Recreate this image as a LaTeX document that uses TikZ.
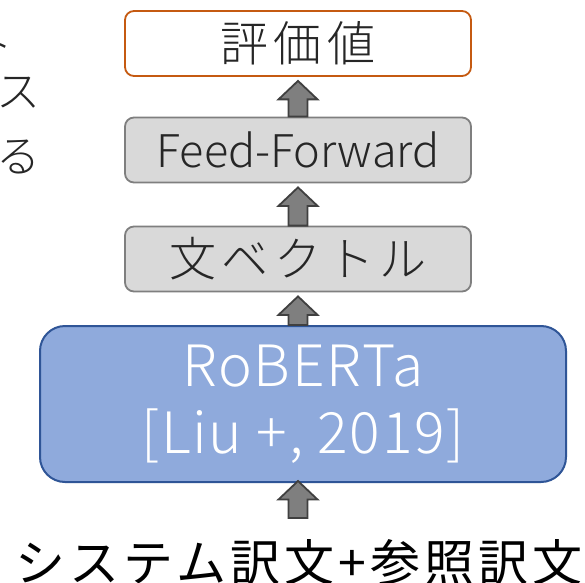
\documentclass[tikz,border=0pt]{standalone}
\usepackage{fontspec}
\setmainfont{Noto Sans CJK JP}[UprightFont={* Light}]
\newfontfamily\jpsp{Noto Sans CJK JP}[UprightFont={* Light},LetterSpace=12]
\newfontfamily\jpin{Noto Sans CJK JP}[LetterSpace=8]
\newfontfamily\robfont{Noto Sans CJK JP}[UprightFont={* Light},LetterSpace=3]
\usetikzlibrary{calc}
\definecolor{txt}{HTML}{262626}
\definecolor{evalorange}{HTML}{C55A11}
\definecolor{boxgray}{HTML}{7F7F7F}
\definecolor{boxfill}{HTML}{D9D9D9}
\definecolor{robborder}{HTML}{2F5597}
\definecolor{robfill}{HTML}{8FAADC}
\definecolor{arrborder}{HTML}{404040}
\definecolor{arrfill}{HTML}{7F7F7F}
\tikzset{
  box/.style={draw, rounded corners=9pt, minimum width=346pt, minimum height=65pt,
    line width=1.8pt, inner sep=0pt, text=txt},
  evalbox/.style={box, draw=evalorange, fill=white},
  graybox/.style={box, draw=boxgray, fill=boxfill},
  robbox/.style={draw=robborder, fill=robfill, line width=2pt, rounded corners=25pt,
    minimum width=526pt, minimum height=156pt, text=white, align=center, inner sep=0pt,
    font=\robfont\fontsize{57}{67}\selectfont},
  blockarr/.style={draw=arrborder, fill=arrfill, line width=1.8pt, line join=miter},
  inputtext/.style={inner sep=0pt, text=black, font=\jpin\fontsize{50}{60}\selectfont},
  sidetext/.style={inner sep=0pt, text=txt, font=\fontsize{44}{50}\selectfont},
}
\newcommand\blockup[3]{%
  \draw[blockarr] let \p1=(#1), \p3=($(#2)+(0,#3)$) in
    (\x1-9.5pt,\y1) -- (\x1-9.5pt,\y3-18.5pt) -- (\x1-19.5pt,\y3-18.5pt) -- (\x1,\y3)
    -- (\x1+19.5pt,\y3-18.5pt) -- (\x1+9.5pt,\y3-18.5pt) -- (\x1+9.5pt,\y1) -- cycle;}
\begin{document}
\begin{tikzpicture}[x=1pt,y=1pt]
\useasboundingbox (0,0) rectangle (585,582);
\clip (0,0) rectangle (585,582);
\fill[white] (0,0) rectangle (585,582);
% side fragments
\node[sidetext] (s1) at (-8,538) {ト};
\node[sidetext] (s2) at (18,489) {ス};
\node[sidetext] (s3) at (18,425) {る};
% boxes
\node[evalbox] (eval) at (298,538.5) {\jpsp\fontsize{48}{55}\selectfont 評価値};
\node[graybox] (ff) at (298,432) {\fontsize{45}{54}\selectfont Feed-Forward};
\node[graybox] (vec) at (298,323) {\jpsp\fontsize{47}{55}\selectfont 文ベクトル};
\node[robbox] (rob) at (303,178) {RoBERTa\\{}[Liu +, 2019]};
\coordinate (inarr) at (298,64);
\node[inputtext, anchor=base] (inp) at (299,1) {システム訳文+参照訳文};
% arrows
\blockup{ff.north}{eval.south}{-4pt}
\blockup{vec.north}{ff.south}{-4pt}
\blockup{rob.north -| vec.south}{vec.south}{-4pt}
\blockup{inarr}{rob.south}{2pt}
\end{tikzpicture}
\end{document}
